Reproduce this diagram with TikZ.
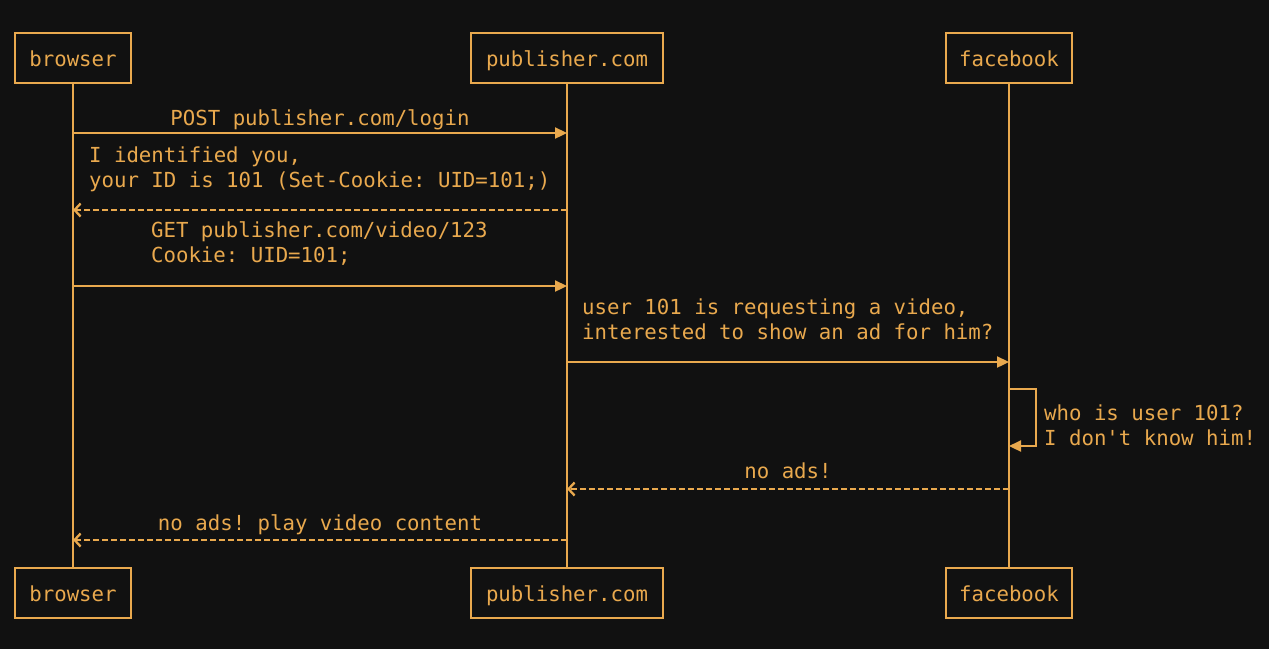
\documentclass[tikz,border=0pt]{standalone}
\usepackage{fontspec}
\setmonofont{DejaVu Sans Mono}
\usetikzlibrary{arrows.meta}
\definecolor{bg}{HTML}{111111}
\definecolor{seq}{HTML}{E9A94E}
\begin{document}
\begin{tikzpicture}[x=1pt, y=-1pt, line width=2.3pt, draw=seq, text=seq,
	font=\ttfamily\fontsize{20.7}{25}\selectfont,
	actor/.style={rectangle, draw, inner sep=0pt, minimum height=50pt, text height=16pt, text depth=0pt},
	msg/.style={-{Triangle[length=12pt,width=11pt]}},
	reply/.style={dash pattern=on 6pt off 3pt, -{Straight Barb[length=6pt,width=13pt]}},
	lbl/.style={inner sep=0pt, align=left, anchor=base west},
	mid/.style={inner sep=0pt, anchor=base}]
	\fill[bg] (0,0) rectangle (1269,649);
	\node (B1) at (  73,  58)	[actor, minimum width=116pt]	{browser};
	\node (P1) at ( 567,  58)	[actor, minimum width=192pt]	{publisher.com};
	\node (F1) at (1009,  58)	[actor, minimum width=126pt]	{facebook};
	\node (B2) at (  73, 593)	[actor, minimum width=116pt]	{browser};
	\node (P2) at ( 567, 593)	[actor, minimum width=192pt]	{publisher.com};
	\node (F2) at (1009, 593)	[actor, minimum width=126pt]	{facebook};
	\draw (B1) -- (B2);
	\draw (P1) -- (P2);
	\draw (F1) -- (F2);
	% message ends on the lifelines
	\coordinate (Ba) at (  73, 133);	\coordinate (Pa) at ( 567, 133);
	\coordinate (Bb) at (  73, 210);	\coordinate (Pb) at ( 567, 210);
	\coordinate (Bc) at (  73, 286);	\coordinate (Pc) at ( 567, 286);
	\coordinate (Pd) at ( 567, 362);	\coordinate (Fd) at (1009, 362);
	\coordinate (Fe) at (1009, 389);	\coordinate (Ff) at (1009, 446);
	\coordinate (Pg) at ( 567, 489);	\coordinate (Fg) at (1009, 489);
	\coordinate (Bh) at (  73, 540);	\coordinate (Ph) at ( 567, 540);
	\draw[msg] (Ba) -- (Pa);
	\node (L1) at (320, 125)	[mid]	{POST publisher.com/login};
	\draw[reply] (Pb) -- (Bb);
	\node (L2) at (88, 187.5)	[lbl]	{I identified you,\\your ID is 101 (Set-Cookie: UID=101;)};
	\draw[msg] (Bc) -- (Pc);
	\node (L3) at (150, 262.5)	[lbl]	{GET publisher.com/video/123\\Cookie: UID=101;};
	\draw[msg] (Pd) -- (Fd);
	\node (L4) at (581, 339)	[lbl]	{user 101 is requesting a video,\\interested to show an ad for him?};
	\draw[msg] (Fe) -- ++(27,0) |- (Ff);
	\node (L5) at (1043, 445)	[lbl]	{who is user 101?\\I don't know him!};
	\draw[reply] (Fg) -- (Pg);
	\node (L6) at (788, 478)	[mid]	{no ads!};
	\draw[reply] (Ph) -- (Bh);
	\node (L7) at (320, 530)	[mid]	{no ads! play video content};
\end{tikzpicture}
\end{document}
